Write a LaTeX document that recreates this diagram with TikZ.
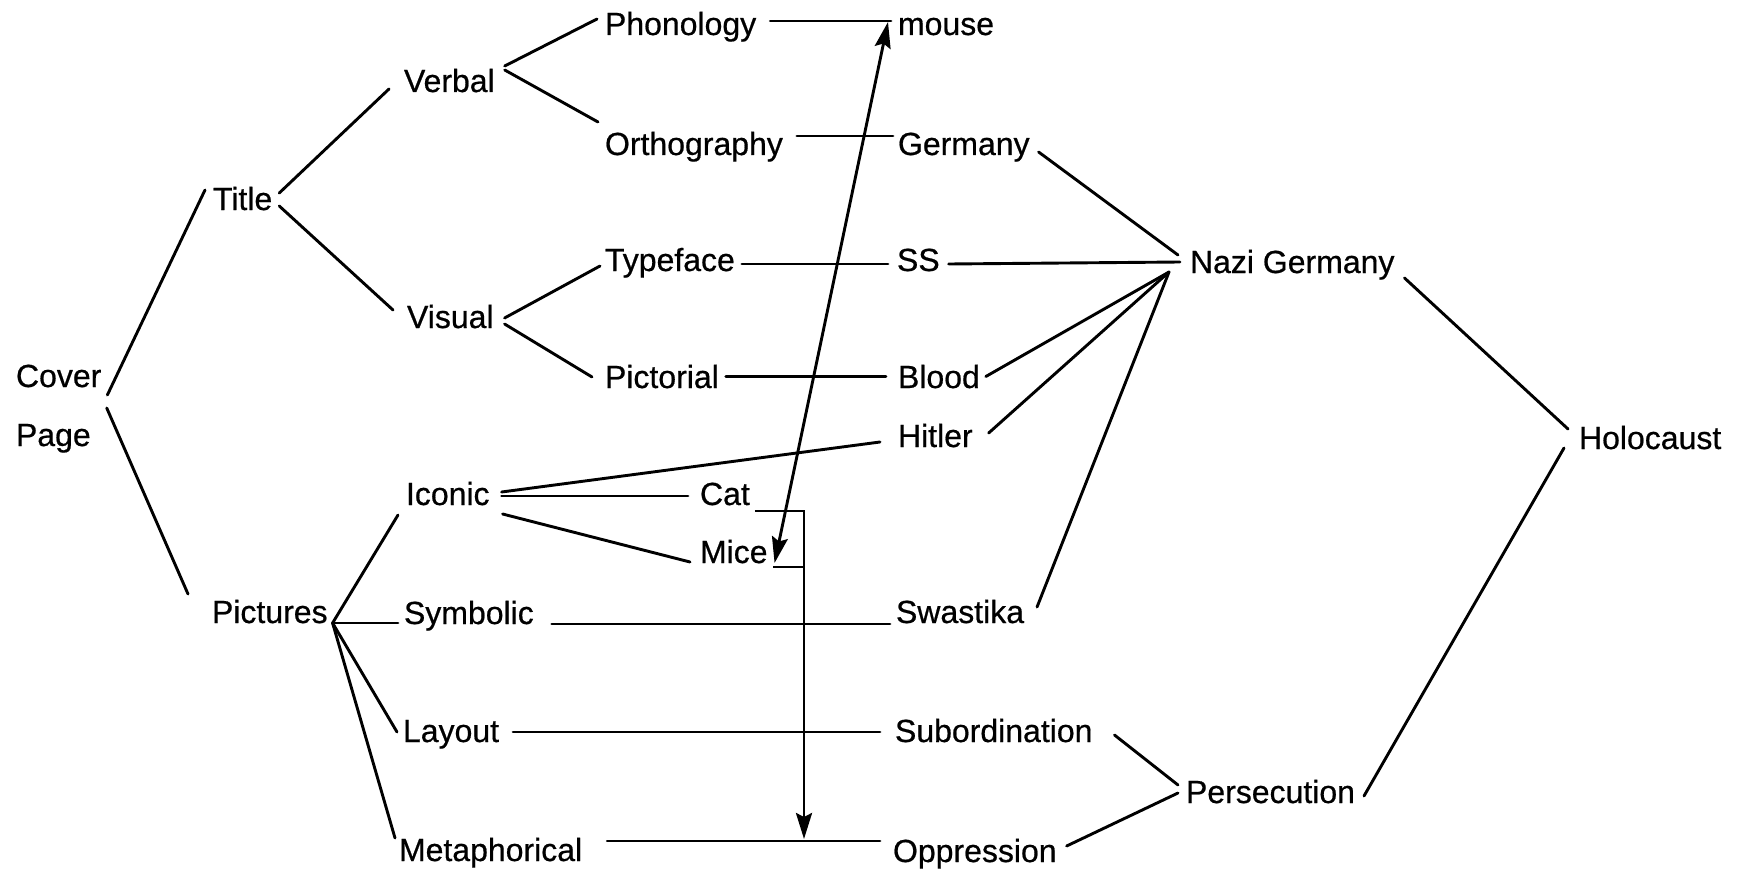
\documentclass[tikz,border=0pt]{standalone}
\usepackage{fontspec}
\setmainfont{Liberation Sans}[FakeBold=0.6]
\usetikzlibrary{arrows.meta}
\begin{document}
\begin{tikzpicture}[x=1pt,y=-1pt,
  lbl/.style={anchor=base west,inner sep=0pt,outer sep=0pt,text height=23pt,text depth=0pt,font=\fontsize{32}{38}\selectfont},
  conn/.style={line width=2.9pt,line cap=round},
  arr/.style={conn,-{Stealth[length=26pt,width=16pt,inset=4pt]}},
  darr/.style={conn,{Stealth[length=26pt,width=16pt,inset=4pt]}-{Stealth[length=26pt,width=16pt,inset=4pt]}}]
\path[use as bounding box] (0,0) rectangle (1746,872);

% labels
\node[lbl] (cover) at (16,387) {Cover};
\node[lbl] (page) at (16,446) {Page};
\node[lbl] (title) at (213,210) {Title};
\node[lbl] (verbal) at (404,92) {Verbal};
\node[lbl] (visual) at (407,328) {Visual};
\node[lbl] (phonology) at (605,35) {Phonology};
\node[lbl] (orthography) at (605,155) {Orthography};
\node[lbl] (typeface) at (605,271) {Typeface};
\node[lbl] (pictorial) at (605,388) {Pictorial};
\node[lbl] (mouse) at (898,35) {mouse};
\node[lbl] (germany) at (898,155) {Germany};
\node[lbl] (ss) at (897,271) {SS};
\node[lbl] (blood) at (898,388) {Blood};
\node[lbl] (hitler) at (898,447) {Hitler};
\node[lbl] (iconic) at (406,505) {Iconic};
\node[lbl] (cat) at (700,505) {Cat};
\node[lbl] (mice) at (700,563) {Mice};
\node[lbl] (pictures) at (212,623) {Pictures};
\node[lbl] (symbolic) at (404,624) {Symbolic};
\node[lbl] (swastika) at (896,623) {Swastika};
\node[lbl] (layout) at (403,742) {Layout};
\node[lbl] (subordination) at (895,742) {Subordination};
\node[lbl] (metaphorical) at (399,861) {Metaphorical};
\node[lbl] (oppression) at (893,862) {Oppression};
\node[lbl] (nazi) at (1190,273) {Nazi Germany};
\node[lbl] (holocaust) at (1579,449) {Holocaust};
\node[lbl] (persecution) at (1186,803) {Persecution};

% hubs
\coordinate (pichub) at ([shift={(5,11.5)}]pictures.east);
\coordinate (nazihub) at ([shift={(-21,10.5)}]nazi.west);
\coordinate (verbhub) at ([shift={(10,-12.5)}]verbal.east);
\coordinate (vishub) at ([shift={(11,3.5)}]visual.east);
\coordinate (join) at (804,567);
\coordinate (hit) at (804,839);

% left tree
\draw[conn] ([shift={(6,8)}]cover.south east) -- ([shift={(-8,-8.5)}]title.west);
\draw[conn] ([shift={(16,-15)}]page.north east) -- ([shift={(-24,-17.5)}]pictures.west);
\draw[conn] ([shift={(7,-5.5)}]title.east) -- ([shift={(-15,8.5)}]verbal.west);
\draw[conn] ([shift={(7,7.5)}]title.east) -- ([shift={(-14,-6.5)}]visual.west);
\draw[conn] ([shift={(0,-2)}]verbhub) -- ([shift={(-8,-4.5)}]phonology.west);
\draw[conn] ([shift={(0,2)}]verbhub) -- ([shift={(-7,-21.5)}]orthography.west);
\draw[conn] ([shift={(0,-2)}]vishub) -- ([shift={(-5,6.5)}]typeface.west);
\draw[conn] ([shift={(0,4)}]vishub) -- ([shift={(-13,0.5)}]pictorial.west);

% middle links
\draw[conn] ([shift={(14,-2.5)}]phonology.east) -- ([shift={(-7,-2.5)}]mouse.west);
\draw[conn] ([shift={(14,-7.5)}]orthography.east) -- ([shift={(-5,-7.5)}]germany.west);
\draw[conn] ([shift={(7,4.5)}]typeface.east) -- ([shift={(-9,4.5)}]ss.west);
\draw[conn] ([shift={(7,0)}]pictorial.east) -- ([shift={(-12,0)}]blood.west);

% to Nazi Germany
\draw[conn] ([shift={(9,4.5)}]ss.east) -- ([shift={(-10,0.5)}]nazi.west);
\draw[conn] ([shift={(9,8.5)}]germany.east) -- ([shift={(-12,-6.5)}]nazi.west);
\draw[conn] ([shift={(6,0)}]blood.east) -- (nazihub);
\draw[conn] ([shift={(16,-2.5)}]hitler.east) -- (nazihub);
\draw[conn] ([shift={(13,-4.5)}]swastika.east) -- (nazihub);

% right side
\draw[conn] ([shift={(10,16.5)}]nazi.east) -- ([shift={(-11,-8.5)}]holocaust.west);
\draw[conn] ([shift={(-15,10.5)}]holocaust.west) -- ([shift={(9,4.5)}]persecution.east);
\draw[conn] ([shift={(22,4.5)}]subordination.east) -- ([shift={(-8,-6.5)}]persecution.west);
\draw[conn] ([shift={(10,-4.5)}]oppression.east) -- ([shift={(-8,1.5)}]persecution.west);

% pictures branch
\draw[conn] (pichub) -- ([shift={(-8,21.5)}]iconic.west);
\draw[conn] (pichub) -- ([shift={(-6,10.5)}]symbolic.west);
\draw[conn] (pichub) -- ([shift={(-6,1.5)}]layout.west);
\draw[conn] (pichub) -- ([shift={(-4,-11.5)}]metaphorical.west);
\draw[conn] ([shift={(18,11.5)}]symbolic.east) -- ([shift={(-6,12.5)}]swastika.west);
\draw[conn] ([shift={(14,1.5)}]layout.east) -- ([shift={(-15,1.5)}]subordination.west);
\draw[conn] ([shift={(25,-8.5)}]metaphorical.east) -- ([shift={(-13,-9.5)}]oppression.west);

% iconic branch
\draw[conn] ([shift={(12,-1.5)}]iconic.east) -- ([shift={(-18,6.5)}]hitler.west);
\draw[conn] ([shift={(12,2.5)}]iconic.east) -- ([shift={(-12,2.5)}]cat.west);
\draw[conn] ([shift={(13,20.5)}]iconic.east) -- ([shift={(-10,10.5)}]mice.west);

% cat / mice bracket and arrows
\draw[conn,line cap=butt] ([shift={(5,17.5)}]cat.east) -| (join) -- ([shift={(5,15.5)}]mice.east);
\draw[arr] (join) -- (hit);
\draw[darr] ([shift={(7,11.5)}]mice.east) -- ([shift={(-10,-1.5)}]mouse.west);
\end{tikzpicture}
\end{document}
